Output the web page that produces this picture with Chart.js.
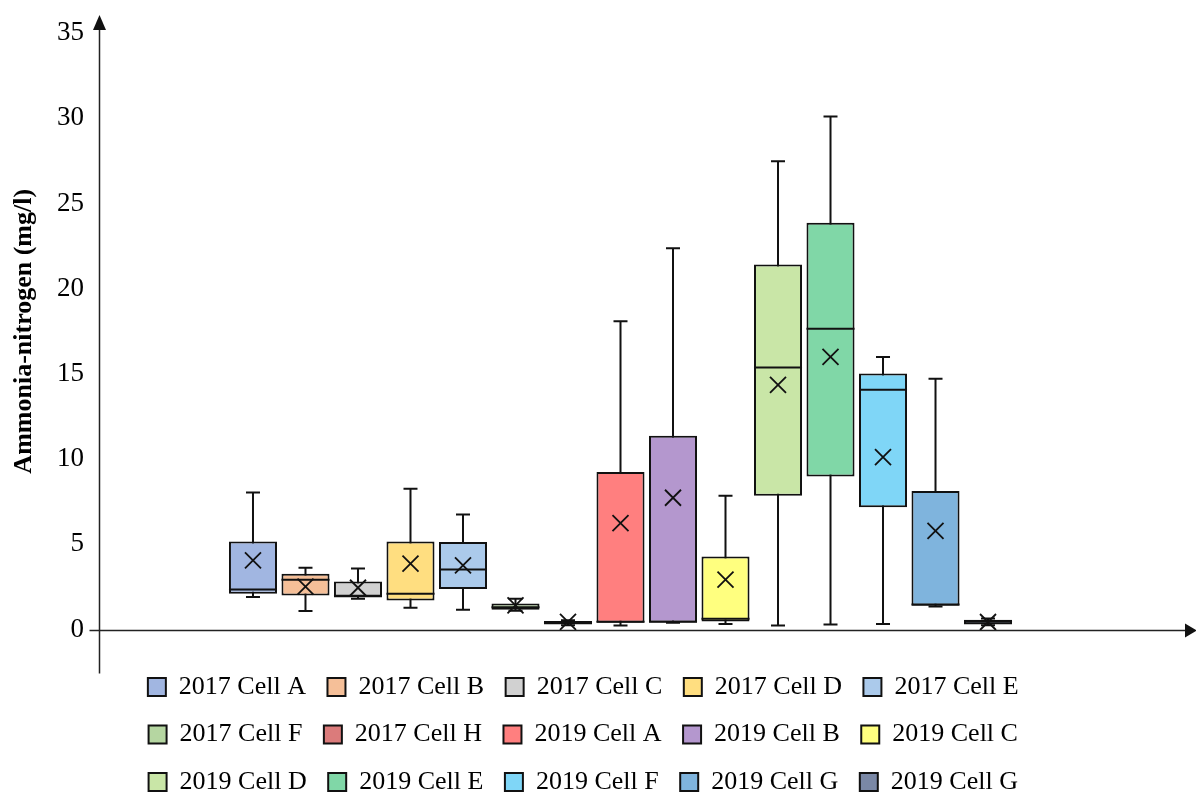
<!DOCTYPE html>
<html>
<head>
<meta charset="utf-8">
<title>Ammonia-nitrogen by cell</title>
<script src="https://cdn.jsdelivr.net/npm/chart.js@4.4.1/dist/chart.umd.min.js"></script>
<style>
  html, body { margin: 0; padding: 0; background: #ffffff; }
  #wrap { width: 1196px; height: 794px; position: relative; }
</style>
</head>
<body>
<div id="wrap"><canvas id="chart"></canvas></div>
<script>
// Series (one box per cell and year)
const cells = ['2017 Cell A', '2017 Cell B', '2017 Cell C', '2017 Cell D', '2017 Cell E',
               '2017 Cell F', '2017 Cell H', '2019 Cell A', '2019 Cell B', '2019 Cell C',
               '2019 Cell D', '2019 Cell E', '2019 Cell F', '2019 Cell G', '2019 Cell G'];
const cellPositions = [1, 2, 3, 4, 5, 6, 7, 8, 9, 10, 11, 12, 13, 14, 15];

// Box-plot statistics, mg/l
const whiskerLow  = [1.90, 1.08, 1.80, 1.27, 1.16, 1.10, 0.25, 0.23, 0.40, 0.33, 0.23, 0.29, 0.33, 1.35, 0.25];
const quartile1   = [2.10, 2.00, 1.88, 1.70, 2.37, 1.16, 0.30, 0.39, 0.41, 0.47, 7.85, 8.98, 7.17, 1.40, 0.30];
const medians     = [2.35, 2.92, 1.98, 2.10, 3.52, 1.30, 0.40, 0.45, 0.45, 0.63, 15.37, 17.64, 14.07, 1.47, 0.45];
const quartile3   = [5.17, 3.27, 2.82, 5.17, 5.13, 1.52, 0.50, 9.24, 11.37, 4.29, 21.41, 23.86, 15.02, 8.12, 0.57];
const whiskerHigh = [8.04, 3.62, 3.58, 8.26, 6.75, 1.80, 0.55, 18.09, 22.37, 7.85, 27.47, 30.10, 15.99, 14.71, 0.65];
const means       = [4.05, 2.52, 2.45, 3.86, 3.76, 1.41, 0.45, 6.24, 7.73, 2.92, 14.35, 15.99, 10.12, 5.79, 0.44];

// Value axis ticks
const yTickValues = [0, 5, 10, 15, 20, 25, 30, 35];

const fillColors = ['#A1B6E1', '#F5BF98', '#D1D1D1', '#FFDE80', '#ABCAEB',
                    '#B5D6A1', '#DB7B7B', '#FF7F7F', '#B497CE', '#FFFF7F',
                    '#C9E6A7', '#80D7A7', '#7FD6F7', '#7FB4DD', '#7A88A6'];

Chart.defaults.font.family = "'Liberation Serif', 'Times New Roman', serif";
Chart.defaults.color = '#000000';

const datasets = cells.map((name, i) => ({
  label: name,
  data: [{ x: cellPositions[i], y: [quartile1[i], quartile3[i]] }],
  backgroundColor: fillColors[i],
  borderColor: '#111111',
  borderWidth: 2,
  borderSkipped: false,
  grouped: false,
  categoryPercentage: 1,
  barPercentage: 0.915
}));

// Whiskers behind the boxes, medians and mean markers on top
const boxExtras = {
  id: 'boxExtras',
  beforeDatasetsDraw(chart) {
    const { ctx } = chart;
    const y = chart.scales.y;
    ctx.save();
    ctx.strokeStyle = '#111111';
    ctx.lineWidth = 2;
    chart.data.datasets.forEach((ds, i) => {
      const bar = chart.getDatasetMeta(i).data[0];
      if (!bar) return;
      const x = bar.x;
      const yl = y.getPixelForValue(whiskerLow[i]);
      const yh = y.getPixelForValue(whiskerHigh[i]);
      ctx.beginPath();
      ctx.moveTo(x, yl); ctx.lineTo(x, yh);
      ctx.moveTo(x - 7, yl); ctx.lineTo(x + 7, yl);
      ctx.moveTo(x - 7, yh); ctx.lineTo(x + 7, yh);
      ctx.stroke();
    });
    ctx.restore();
  },
  afterDatasetsDraw(chart) {
    const { ctx } = chart;
    const y = chart.scales.y;
    ctx.save();
    ctx.strokeStyle = '#111111';
    chart.data.datasets.forEach((ds, i) => {
      const bar = chart.getDatasetMeta(i).data[0];
      if (!bar) return;
      const x = bar.x;
      const half = bar.width / 2;
      const ym = y.getPixelForValue(medians[i]);
      ctx.lineWidth = 2;
      ctx.beginPath();
      ctx.moveTo(x - half, ym); ctx.lineTo(x + half, ym);
      ctx.stroke();
      const ya = y.getPixelForValue(means[i]);
      const s = 8;
      ctx.lineWidth = 1.8;
      ctx.beginPath();
      ctx.moveTo(x - s, ya - s); ctx.lineTo(x + s, ya + s);
      ctx.moveTo(x - s, ya + s); ctx.lineTo(x + s, ya - s);
      ctx.stroke();
    });
    ctx.restore();
  }
};

// Axis lines with arrow heads
const arrowAxes = {
  id: 'arrowAxes',
  afterDraw(chart) {
    const { ctx, chartArea } = chart;
    const y = chart.scales.y;
    const x0 = Math.round(chartArea.left) + 0.5;
    const y0 = Math.round(y.getPixelForValue(0)) + 0.5;
    const width = chart.width;
    ctx.save();
    ctx.strokeStyle = '#222222';
    ctx.fillStyle = '#111111';
    ctx.lineWidth = 1.5;
    // vertical axis
    ctx.beginPath();
    ctx.moveTo(x0, chartArea.bottom + 44);
    ctx.lineTo(x0, 28);
    ctx.stroke();
    ctx.beginPath();
    ctx.moveTo(x0, 15); ctx.lineTo(x0 - 6.5, 30); ctx.lineTo(x0 + 6.5, 30); ctx.closePath();
    ctx.fill();
    // horizontal axis
    ctx.beginPath();
    ctx.moveTo(x0 - 10, y0);
    ctx.lineTo(width - 10, y0);
    ctx.stroke();
    ctx.beginPath();
    ctx.moveTo(width + 1, y0); ctx.lineTo(width - 11, y0 - 7); ctx.lineTo(width - 11, y0 + 7); ctx.closePath();
    ctx.fill();
    ctx.restore();
  }
};

new Chart(document.getElementById('chart'), {
  type: 'bar',
  data: { datasets },
  options: {
    responsive: true,
    maintainAspectRatio: false,
    devicePixelRatio: 1,
    animation: false,
    layout: { padding: { top: 33, left: 0, right: 128.5, bottom: -11 } },
    plugins: {
      tooltip: { enabled: false },
      legend: {
        position: 'bottom',
        fullSize: false,
        labels: {
          boxWidth: 18,
          boxHeight: 18,
          padding: 21.5,
          color: '#000000',
          font: { size: 26 }
        }
      }
    },
    scales: {
      x: {
        type: 'linear',
        offset: false,
        min: -1.933,
        max: 16.514,
        ticks: { display: false },
        grid: { display: false },
        border: { display: false },
        afterFit(scale) { scale.height = 23; }
      },
      y: {
        min: 0,
        max: 35,
        afterBuildTicks(scale) { scale.ticks = yTickValues.map(v => ({ value: v })); },
        ticks: { padding: 7, color: '#000000', font: { size: 27 } },
        grid: { display: false },
        border: { display: false },
        title: {
          display: true,
          text: 'Ammonia-nitrogen (mg/l)',
          color: '#000000',
          font: { size: 26, weight: 'bold' },
          padding: { top: 9, bottom: 0 }
        },
        afterFit(scale) { scale.width = 99; }
      }
    }
  },
  plugins: [boxExtras, arrowAxes]
});
</script>
</body>
</html>
